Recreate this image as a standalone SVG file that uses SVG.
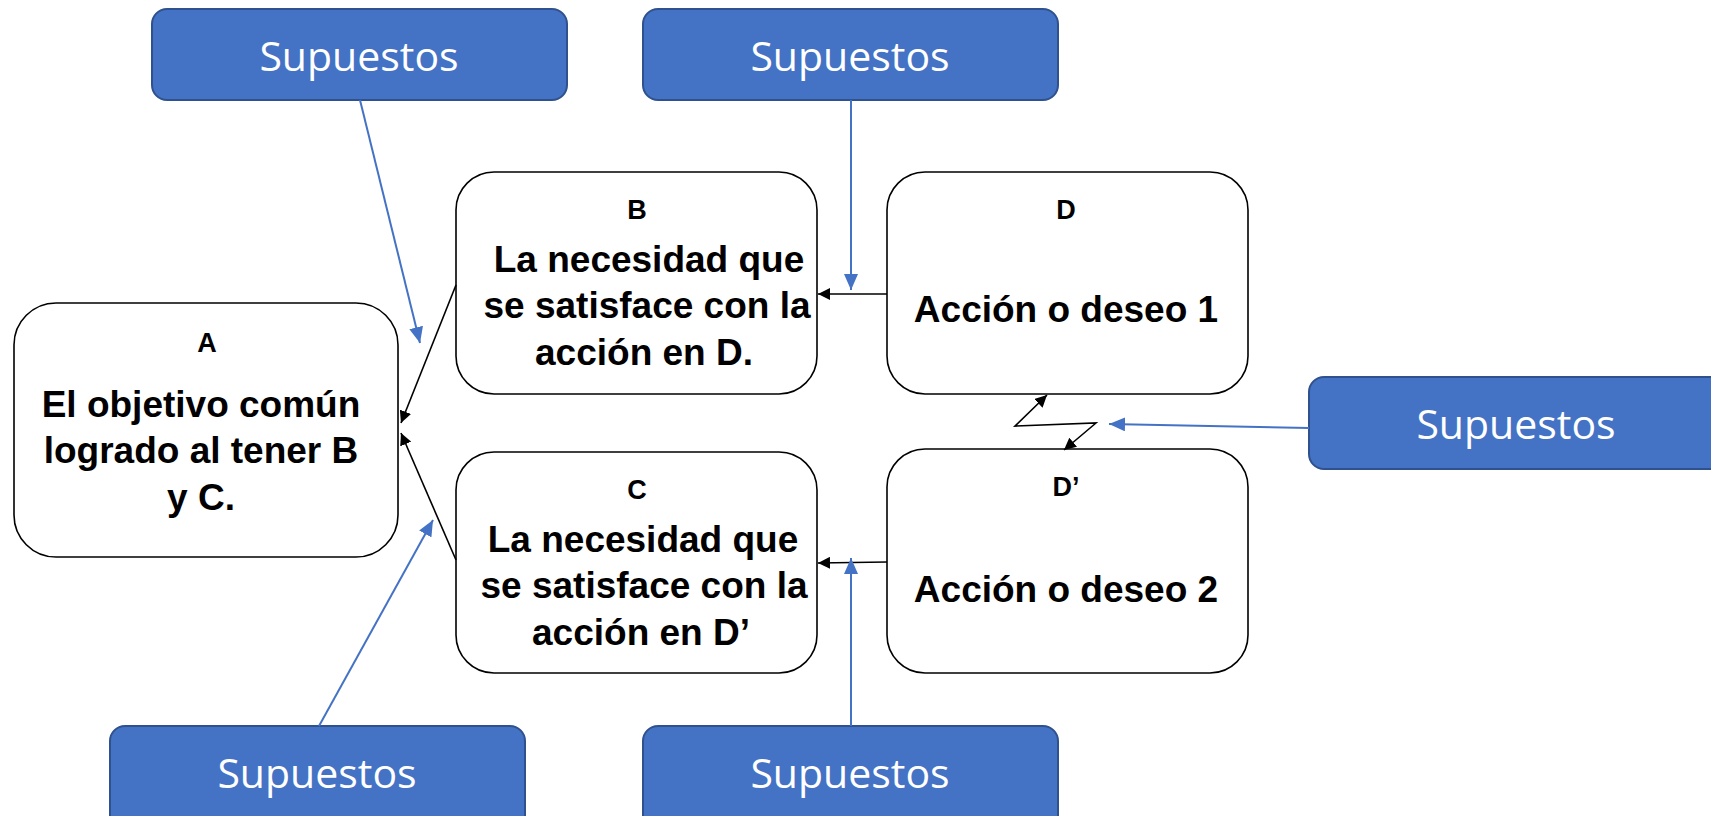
<svg xmlns="http://www.w3.org/2000/svg" width="1711" height="816" viewBox="0 0 1711 816">
<defs>
<style>
.node{fill:#ffffff;stroke:#000000;stroke-width:1.6}
.sup{fill:#4472C4;stroke:#2F528F;stroke-width:2}
.supt{font-family:"Open Sans","Noto Sans","Liberation Sans",sans-serif;font-size:41px;fill:#ffffff;text-anchor:middle}
.lbl{font-family:"Liberation Sans",Arial,sans-serif;font-weight:bold;font-size:27px;fill:#000;text-anchor:middle}
.txt{font-family:"Liberation Sans",Arial,sans-serif;font-weight:bold;font-size:37px;fill:#000;text-anchor:middle}
.blk{fill:none;stroke:#000;stroke-width:1.6}
.blu{fill:none;stroke:#4472C4;stroke-width:2}
</style>
<marker id="ab" markerUnits="userSpaceOnUse" markerWidth="12" markerHeight="12" refX="10" refY="5" orient="auto-start-reverse" viewBox="0 0 10 10">
<path d="M0,0 L10,5 L0,10 Z" fill="#000"/>
</marker>
<marker id="au" markerUnits="userSpaceOnUse" markerWidth="16" markerHeight="14" refX="16" refY="7" orient="auto" viewBox="0 0 16 14">
<path d="M0,0 L16,7 L0,14 Z" fill="#4472C4"/>
</marker>
</defs>

<g id="supuestos-tl">
<rect class="sup" x="152" y="9" width="415" height="91" rx="15"/>
<text class="supt" x="359" y="71">Supuestos</text>
</g>
<g id="supuestos-tc">
<rect class="sup" x="643" y="9" width="415" height="91" rx="15"/>
<text class="supt" x="850" y="71">Supuestos</text>
</g>
<g id="supuestos-r">
<rect class="sup" x="1309" y="377" width="430" height="92" rx="15"/>
<text class="supt" x="1516" y="439">Supuestos</text>
</g>
<g id="supuestos-bl">
<rect class="sup" x="110" y="726" width="415" height="110" rx="15"/>
<text class="supt" x="317" y="788">Supuestos</text>
</g>
<g id="supuestos-bc">
<rect class="sup" x="643" y="726" width="415" height="110" rx="15"/>
<text class="supt" x="850" y="788">Supuestos</text>
</g>

<g id="node-a">
<rect class="node" x="14" y="303" width="384" height="254" rx="42"/>
<text class="lbl" x="207" y="352">A</text>
<text class="txt" x="201" y="417">El objetivo común</text>
<text class="txt" x="201" y="463">logrado al tener B</text>
<text class="txt" x="201" y="510">y C.</text>
</g>
<g id="node-b">
<rect class="node" x="456" y="172" width="361" height="222" rx="38"/>
<text class="lbl" x="637" y="219">B</text>
<text class="txt" x="649" y="272">La necesidad que</text>
<text class="txt" x="647" y="318">se satisface con la</text>
<text class="txt" x="644" y="365">acción en D.</text>
</g>
<g id="node-c">
<rect class="node" x="456" y="452" width="361" height="221" rx="38"/>
<text class="lbl" x="637" y="499">C</text>
<text class="txt" x="643" y="552">La necesidad que</text>
<text class="txt" x="644" y="598">se satisface con la</text>
<text class="txt" x="641" y="645">acción en D’</text>
</g>
<g id="node-d">
<rect class="node" x="887" y="172" width="361" height="222" rx="38"/>
<text class="lbl" x="1066" y="219">D</text>
<text class="txt" x="1066" y="322">Acción o deseo 1</text>
</g>
<g id="node-d2">
<rect class="node" x="887" y="449" width="361" height="224" rx="38"/>
<text class="lbl" x="1066" y="496">D’</text>
<text class="txt" x="1066" y="602">Acción o deseo 2</text>
</g>

<g id="connectors">
<line class="blk" x1="456" y1="285" x2="401" y2="423" marker-end="url(#ab)"/>
<line class="blk" x1="456" y1="560" x2="401" y2="433" marker-end="url(#ab)"/>
<line class="blk" x1="887" y1="294" x2="818" y2="294" marker-end="url(#ab)"/>
<line class="blk" x1="887" y1="562" x2="818" y2="563" marker-end="url(#ab)"/>
<polyline class="blk" points="1047,395 1015,426 1096,423 1064,450" marker-start="url(#ab)" marker-end="url(#ab)"/>
<line class="blu" x1="360" y1="100" x2="420" y2="343" marker-end="url(#au)"/>
<line class="blu" x1="851" y1="100" x2="851" y2="290" marker-end="url(#au)"/>
<line class="blu" x1="1309" y1="428" x2="1109" y2="424" marker-end="url(#au)"/>
<line class="blu" x1="319" y1="726" x2="433" y2="520" marker-end="url(#au)"/>
<line class="blu" x1="851" y1="726" x2="851" y2="558" marker-end="url(#au)"/>
</g>
</svg>
